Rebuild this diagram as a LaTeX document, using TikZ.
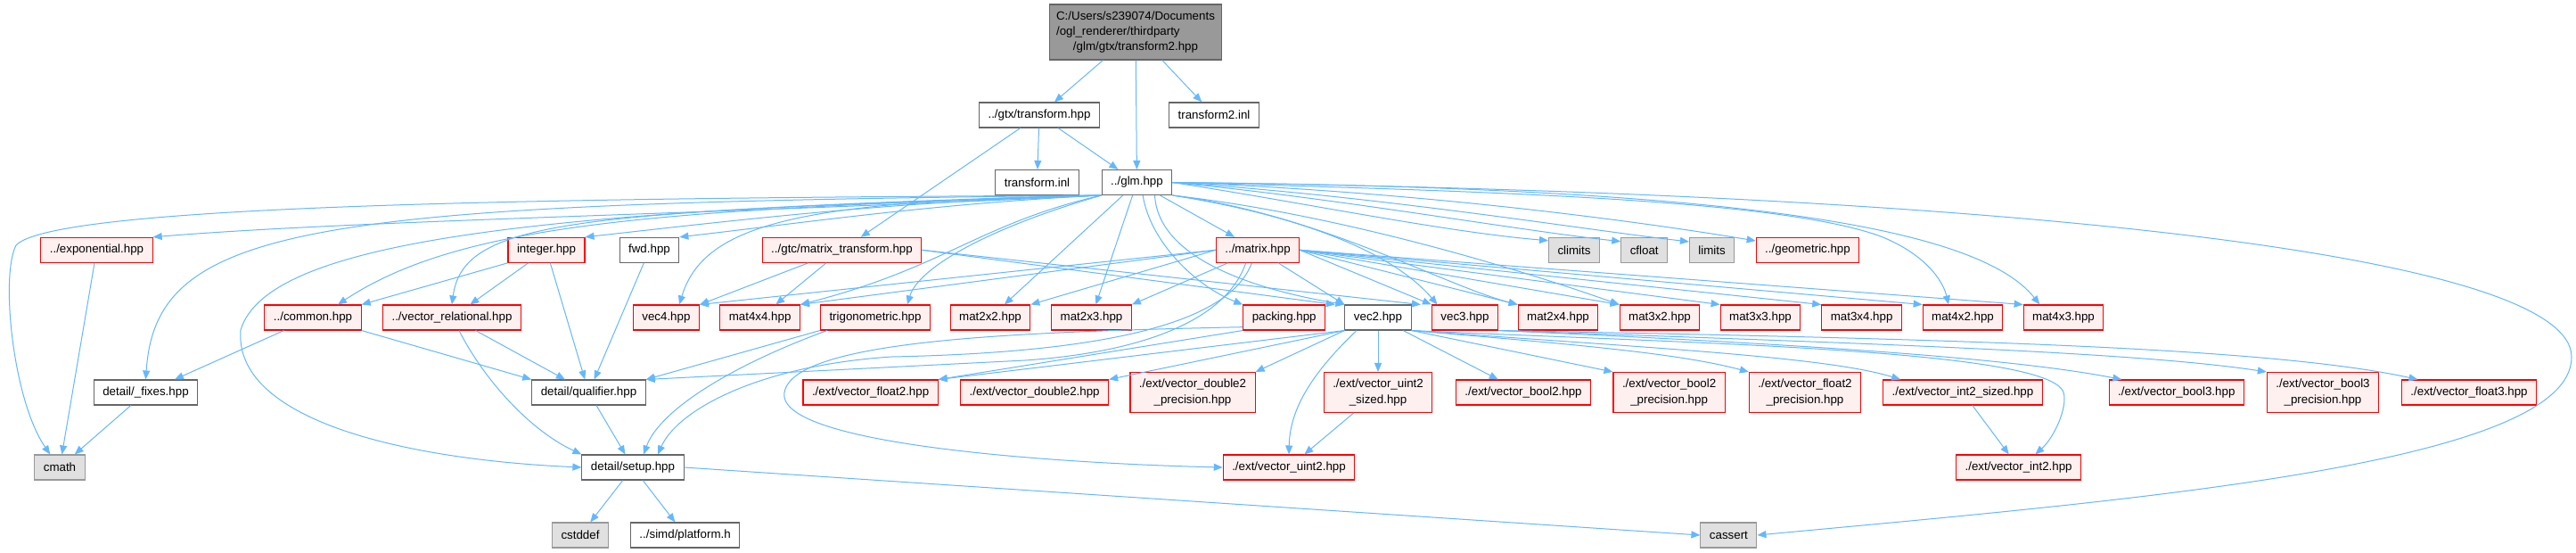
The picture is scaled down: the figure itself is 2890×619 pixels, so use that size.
\documentclass[tikz,border=0pt]{standalone}
\usepackage{fontspec}
\setmainfont{Liberation Sans}
\usetikzlibrary{arrows.meta}
\definecolor{edgeBlue}{HTML}{63B8FF}
\definecolor{truncFill}{HTML}{FFF0F0}
\definecolor{sysFill}{HTML}{E0E0E0}
\definecolor{sysLine}{HTML}{999999}
\definecolor{boxLine}{HTML}{666666}
\definecolor{rootFill}{HTML}{999999}

\begin{document}
\begin{tikzpicture}[x=0.75pt, y=-0.75pt,
				hdr/.style={draw=boxLine, fill=white, line width=0.8pt, minimum height=21pt, inner xsep=7.5pt, inner ysep=1pt, font=\fontsize{10}{13}\selectfont, align=center},
				trunc/.style={hdr, draw=red, fill=truncFill},
				trunctwo/.style={trunc, minimum height=33.75pt},
				sys/.style={hdr, draw=sysLine, fill=sysFill},
				rootbox/.style={hdr, fill=rootFill, minimum height=46.5pt, inner xsep=6pt},
				dep/.style={draw=edgeBlue, line width=0.75pt, -{Triangle[length=7.5pt,width=6pt]}}]
				\fill[white] (0,0) rectangle (2890,619);
				\useasboundingbox (0,0) rectangle (2890,619);
				\node[rootbox] (root) at (1274,36) {\begin{tabular}{@{}l@{}}C:/Users/s239074/Documents\\/ogl\_renderer/thirdparty\\\multicolumn{1}{@{}c@{}}{/glm/gtx/transform2.hpp}\end{tabular}};
				\node[hdr] (gtxtr) at (1166,129) {../gtx/transform.hpp};
				\node[hdr] (tr2inl) at (1362,129) {transform2.inl};
				\node[hdr] (trinl) at (1163.5,204.5) {transform.inl};
				\node[hdr] (glm) at (1275.5,204.5) {../glm.hpp};
				\node[trunc] (exponential) at (108.5,280.3) {../exponential.hpp};
				\node[trunc] (integer) at (613,280.3) {integer.hpp};
				\node[hdr] (fwd) at (728.5,280.3) {fwd.hpp};
				\node[trunc] (mtrans) at (944.5,280.3) {../gtc/matrix\_transform.hpp};
				\node[trunc] (matrix) at (1411,280.3) {../matrix.hpp};
				\node[sys] (climits) at (1766,280.3) {climits};
				\node[sys] (cfloat) at (1844.7,280.3) {cfloat};
				\node[sys] (limits) at (1920.6,280.3) {limits};
				\node[trunc] (geometric) at (2028,280.3) {../geometric.hpp};
				\node[trunc] (common) at (351,356) {../common.hpp};
				\node[trunc] (vrel) at (507,356) {../vector\_relational.hpp};
				\node[trunc] (vec4) at (747.4,356) {vec4.hpp};
				\node[trunc] (mat4x4) at (852.6,356) {mat4x4.hpp};
				\node[trunc] (trig) at (982,356) {trigonometric.hpp};
				\node[trunc] (mat2x2) at (1111,356) {mat2x2.hpp};
				\node[trunc] (mat2x3) at (1224.5,356) {mat2x3.hpp};
				\node[trunc] (packing) at (1440.7,356) {packing.hpp};
				\node[hdr] (vec2) at (1546,356) {vec2.hpp};
				\node[trunc] (vec3) at (1643.5,356) {vec3.hpp};
				\node[trunc] (mat2x4) at (1748,356) {mat2x4.hpp};
				\node[trunc] (mat3x2) at (1862,356) {mat3x2.hpp};
				\node[trunc] (mat3x3) at (1975,356) {mat3x3.hpp};
				\node[trunc] (mat3x4) at (2088.6,356) {mat3x4.hpp};
				\node[trunc] (mat4x2) at (2202,356) {mat4x2.hpp};
				\node[trunc] (mat4x3) at (2315,356) {mat4x3.hpp};
				\node[hdr] (fixes) at (163.5,440) {detail/\_fixes.hpp};
				\node[hdr] (qualifier) at (660.5,440) {detail/qualifier.hpp};
				\node[trunc] (vfloat2) at (976.6,440) {./ext/vector\_float2.hpp};
				\node[trunc] (vdouble2) at (1160.6,440) {./ext/vector\_double2.hpp};
				\node[trunctwo] (vdouble2p) at (1338,440) {./ext/vector\_double2\\\_precision.hpp};
				\node[trunctwo] (vuint2s) at (1546,440) {./ext/vector\_uint2\\\_sized.hpp};
				\node[trunc] (vbool2) at (1709,440) {./ext/vector\_bool2.hpp};
				\node[trunctwo] (vbool2p) at (1872.6,440) {./ext/vector\_bool2\\\_precision.hpp};
				\node[trunctwo] (vfloat2p) at (2025,440) {./ext/vector\_float2\\\_precision.hpp};
				\node[trunc] (vint2s) at (2202,440) {./ext/vector\_int2\_sized.hpp};
				\node[trunc] (vbool3) at (2441.8,440) {./ext/vector\_bool3.hpp};
				\node[trunctwo] (vbool3p) at (2606,440) {./ext/vector\_bool3\\\_precision.hpp};
				\node[trunc] (vfloat3) at (2770,440) {./ext/vector\_float3.hpp};
				\node[sys] (cmath) at (67,524) {cmath};
				\node[hdr] (setup) at (710,524) {detail/setup.hpp};
				\node[trunc] (vuint2) at (1446,524) {./ext/vector\_uint2.hpp};
				\node[trunc] (vint2) at (2264.6,524) {./ext/vector\_int2.hpp};
				\node[sys] (cstddef) at (651,600) {cstddef};
				\node[hdr] (platform) at (768.6,600) {../simd/platform.h};
				\node[sys] (cassert) at (1939.4,600) {cassert};
				\draw[dep] (root) -- (gtxtr);
				\draw[dep] (root) -- (glm);
				\draw[dep] (root) -- (tr2inl);
				\draw[dep] (gtxtr) -- (trinl);
				\draw[dep] (gtxtr) -- (glm);
				\draw[dep] (gtxtr) -- (mtrans);
				\draw[dep] (glm.south west) .. controls (600,222) and (60,230) .. (18,275) .. controls (0,310) and (15,450) .. ([xshift=-8pt]cmath.north);
				\draw[dep] (glm.south west) .. controls (800,240) and (400,247) .. (exponential.north east);
				\draw[dep] (glm.south west) .. controls (350,228) and (175,250) .. (fixes.north);
				\draw[dep] (glm.south west) .. controls (750,235) and (520,248) .. ([xshift=21pt]common.north);
				\draw[dep] (glm.south west) .. controls (650,238) and (520,245) .. (vrel.north);
				\draw[dep] (glm.south west) .. controls (600,235) and (300,270) .. (270,370) .. controls (262,470) and (450,515) .. (setup.west);
				\draw[dep] (glm.south west) .. controls (1000,225) and (800,250) .. (integer.north east);
				\draw[dep] (glm.south west) .. controls (1050,228) and (900,250) .. (fwd.north east);
				\draw[dep] (glm.south west) .. controls (900,225) and (790,250) .. ([xshift=11pt]vec4.north);
				\draw[dep] (glm.south west) .. controls (1100,250) and (1060,300) .. (mat4x4.north east);
				\draw[dep] (glm.south west) .. controls (1110,255) and (1030,300) .. ([xshift=27pt]trig.north);
				\draw[dep] (glm) -- (mat2x2);
				\draw[dep] (glm) -- (mat2x3);
				\draw[dep] (glm) -- (matrix);
				\draw[dep] ([xshift=5pt]glm.south) .. controls (1290,270) and (1340,320) .. (packing.north west);
				\draw[dep] ([xshift=15pt]glm.south) .. controls (1300,300) and (1440,330) .. (vec2.north west);
				\draw[dep] (glm.south east) .. controls (1450,240) and (1560,280) .. ([xshift=5pt]vec3.north west);
				\draw[dep] (glm.south east) .. controls (1480,240) and (1620,320) .. (mat2x4.north west);
				\draw[dep] (glm.south east) .. controls (1500,240) and (1700,300) .. (mat3x2.north west);
				\draw[dep] (glm.east) .. controls (1450,225) and (1620,260) .. (climits.160);
				\draw[dep] (glm.east) .. controls (1500,222) and (1700,258) .. (cfloat.160);
				\draw[dep] (glm.east) .. controls (1550,220) and (1780,258) .. (limits.160);
				\draw[dep] (glm.east) .. controls (1600,215) and (1850,250) .. (geometric.170);
				\draw[dep] (glm.east) .. controls (1700,215) and (2000,225) .. (2110,265) .. controls (2160,285) and (2180,315) .. ([xshift=-12pt]mat4x2.north);
				\draw[dep] (glm.east) .. controls (1950,210) and (2220,255) .. ([xshift=-20pt]mat4x3.north);
				\draw[dep] (glm.east) .. controls (2200,215) and (2884,280) .. (2885,400) .. controls (2886,520) and (2400,560) .. (cassert.east);
				\draw[dep] (matrix.west) -- (vec4.north east);
				\draw[dep] (matrix.west) -- (mat4x4.north east);
				\draw[dep] (matrix.west) -- (mat2x2.north east);
				\draw[dep] (matrix) -- (mat2x3.north east);
				\draw[dep] (matrix) -- (vec2.north west);
				\draw[dep] (matrix.east) -- (vec3.north west);
				\draw[dep] (matrix.east) -- (mat2x4.north west);
				\draw[dep] (matrix.east) -- (mat3x2.north west);
				\draw[dep] (matrix.east) -- (mat3x3.north west);
				\draw[dep] (matrix.east) -- (mat3x4.north west);
				\draw[dep] (matrix.east) -- (mat4x2.north west);
				\draw[dep] (matrix.east) -- (mat4x3.north west);
				\draw[dep] ([xshift=-10pt]matrix.south) .. controls (1375,360) and (1280,395) .. (1150,404) -- (qualifier.north east);
				\draw[dep] ([xshift=-5pt]matrix.south) .. controls (1380,360) and (1250,395) .. (1000,400) .. controls (850,410) and (760,460) .. ([xshift=21pt]setup.north);
				\draw[dep] (mtrans) -- (vec4);
				\draw[dep] (mtrans) -- (mat4x4);
				\draw[dep] (mtrans.east) -- ([xshift=-8pt]vec2.north west);
				\draw[dep] (mtrans.east) -- ([xshift=-9pt]vec3.north west);
				\draw[dep] (packing.south west) -- (vfloat2.north east);
				\draw[dep] ([yshift=-8pt]packing.west) .. controls (1150,372) and (890,380) .. (880,440) .. controls (870,500) and (1200,520) .. (vuint2.west);
				\draw[dep] (vec2.south west) -- (vfloat2.north east);
				\draw[dep] (vec2.south west) -- (vdouble2.north east);
				\draw[dep] (vec2.south west) -- (vdouble2p.north east);
				\draw[dep] (vec2) -- (vuint2s);
				\draw[dep] ([xshift=-18pt]vec2.south) .. controls (1470,420) and (1447,460) .. (vuint2.north);
				\draw[dep] (vec2) -- (vbool2);
				\draw[dep] (vec2.south east) -- (vbool2p.north west);
				\draw[dep] (vec2.south east) .. controls (1750,385) and (1880,395) .. (vfloat2p.north west);
				\draw[dep] (vec2.south east) .. controls (1850,390) and (2050,400) .. ([xshift=15pt]vint2s.north west);
				\draw[dep] (vec2.south east) .. controls (1900,385) and (2300,392) .. (2315,440) .. controls (2320,456) and (2305,490) .. ([xshift=14pt]vint2.north);
				\draw[dep] (vec3.south east) .. controls (2000,385) and (2250,400) .. ([xshift=11pt]vbool3.north west);
				\draw[dep] (vec3.south east) .. controls (2100,385) and (2400,395) .. (vbool3p.north west);
				\draw[dep] (vec3.south east) .. controls (2200,380) and (2550,390) .. ([xshift=14pt]vfloat3.north west);
				\draw[dep] (integer.south west) -- (common.north east);
				\draw[dep] (integer) -- (vrel);
				\draw[dep] (integer) -- (qualifier);
				\draw[dep] (fwd) -- (qualifier);
				\draw[dep] (common) -- (fixes);
				\draw[dep] (common.south east) -- (qualifier.north west);
				\draw[dep] (vrel) -- (qualifier);
				\draw[dep] ([xshift=6pt]vrel.south) .. controls (540,420) and (590,480) .. (setup.north west);
				\draw[dep] (trig.south west) -- (qualifier.north east);
				\draw[dep] ([xshift=6pt]trig.south west) .. controls (820,410) and (740,460) .. ([xshift=9pt]setup.north);
				\draw[dep] (qualifier) -- (setup);
				\draw[dep] (setup) -- (cstddef);
				\draw[dep] (setup) -- (platform);
				\draw[dep] (setup.east) -- (cassert.west);
				\draw[dep] (exponential) -- (cmath);
				\draw[dep] (fixes) -- (cmath);
				\draw[dep] (vuint2s) -- (vuint2);
				\draw[dep] (vint2s) -- (vint2);
			\end{tikzpicture}
\end{document}
